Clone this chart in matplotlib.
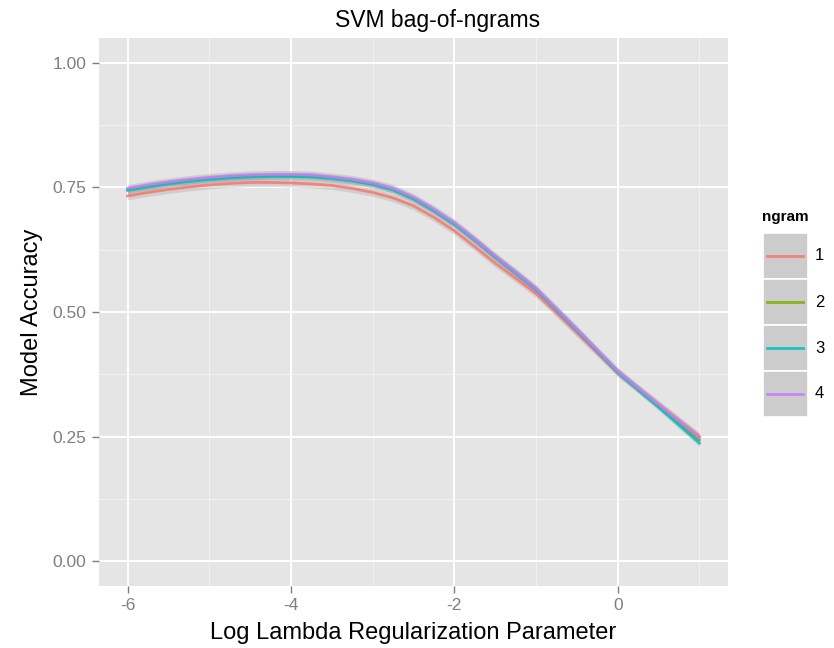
import matplotlib
matplotlib.use("Agg")
import matplotlib.pyplot as plt
from matplotlib.patches import Rectangle
from matplotlib.lines import Line2D
import numpy as np

plt.rcParams["font.family"] = ["Liberation Sans", "DejaVu Sans"]

# smoothed accuracy curves, every 0.25
log_lambda = [-6.00, -5.75, -5.50, -5.25, -5.00, -4.75, -4.50, -4.25, -4.00, -3.75,
              -3.50, -3.25, -3.00, -2.75, -2.50, -2.25, -2.00, -1.75, -1.50, -1.25,
              -1.00, -0.75, -0.50, -0.25, 0.00, 0.25, 0.50, 0.75, 1.00]
acc_1 = [0.733, 0.740, 0.746, 0.751, 0.755, 0.758, 0.760, 0.760, 0.759, 0.757,
         0.754, 0.748, 0.740, 0.729, 0.713, 0.690, 0.663, 0.631, 0.598, 0.568,
         0.537, 0.498, 0.458, 0.418, 0.378, 0.346, 0.314, 0.282, 0.250]
acc_2 = [0.746, 0.753, 0.759, 0.764, 0.768, 0.771, 0.773, 0.774, 0.774, 0.773,
         0.769, 0.764, 0.757, 0.746, 0.728, 0.704, 0.677, 0.645, 0.611, 0.579,
         0.546, 0.505, 0.464, 0.422, 0.380, 0.346, 0.312, 0.278, 0.243]
acc_3 = [0.744, 0.751, 0.757, 0.762, 0.766, 0.769, 0.771, 0.772, 0.772, 0.771,
         0.768, 0.763, 0.756, 0.745, 0.727, 0.703, 0.676, 0.644, 0.610, 0.578,
         0.545, 0.504, 0.463, 0.421, 0.379, 0.344, 0.309, 0.273, 0.237]
acc_4 = [0.748, 0.755, 0.761, 0.766, 0.770, 0.773, 0.775, 0.776, 0.776, 0.775,
         0.771, 0.766, 0.759, 0.748, 0.730, 0.706, 0.679, 0.646, 0.612, 0.580,
         0.547, 0.506, 0.465, 0.423, 0.381, 0.347, 0.314, 0.281, 0.248]
ngram_labels = ["1", "2", "3", "4"]
se_width = [0.008, 0.007, 0.007, 0.008]

COLORS = ["#F8766D", "#7CAE00", "#00BFC4", "#C77CFF"]

fig = plt.figure(figsize=(8.34, 6.48), dpi=100)
ax = fig.add_axes([0.1187, 0.0957, 0.7542, 0.8457])
ax.set_facecolor("#E5E5E5")

x = np.array(log_lambda)
series = [acc_1, acc_2, acc_3, acc_4]
for ys, se in zip(series, se_width):
    ys = np.array(ys)
    ax.fill_between(x, ys - se, ys + se, color="#999999", alpha=0.3, linewidth=0, zorder=2)
for ys, c in zip(series, COLORS):
    ax.plot(x, ys, color=c, linewidth=2.0, zorder=3, alpha=0.85)

ax.set_xlim(-6.35, 1.35)
ax.set_ylim(-0.05, 1.05)
ax.set_xticks([-6, -4, -2, 0])
ax.set_xticklabels(["-6", "-4", "-2", "0"])
ax.set_xticks([-5, -3, -1, 1], minor=True)
ax.set_yticks([0, 0.25, 0.5, 0.75, 1.0])
ax.set_yticks([0.125, 0.375, 0.625, 0.875], minor=True)
ax.set_yticklabels(["0.00", "0.25", "0.50", "0.75", "1.00"])
ax.grid(which="major", color="white", linewidth=1.4, zorder=0)
ax.grid(which="minor", color="#F2F2F2", linewidth=0.7, zorder=0)
ax.set_axisbelow(True)
for s in ax.spines.values():
    s.set_visible(False)
ax.tick_params(which="major", length=5, width=1, color="#7F7F7F",
               labelcolor="#7F7F7F", labelsize=12.5, pad=4)
ax.tick_params(which="minor", length=0)

ax.set_xlabel("Log Lambda Regularization Parameter", fontsize=17, labelpad=6)
ax.set_ylabel("Model Accuracy", fontsize=17, labelpad=7)

W, H = 834, 648
fig.text(438 / W, 1 - 20 / H, "SVM bag-of-ngrams", fontsize=16.5, ha="center", va="center")

# legend drawn by hand, ggplot style
fig.text(762 / W, 1 - 217 / H, "ngram", fontsize=11, fontweight="bold", va="center", ha="left")
box_top = 233
box_h = 46
for i, (lab, c) in enumerate(zip(ngram_labels, COLORS)):
    y0 = box_top + i * box_h
    fig.add_artist(Rectangle((763 / W, 1 - (y0 + box_h) / H), 45 / W, box_h / H,
                             transform=fig.transFigure, facecolor="#CCCCCC",
                             edgecolor="white", linewidth=1.2))
    yc = 1 - (y0 + box_h / 2) / H
    fig.add_artist(Line2D([767 / W, 803 / W], [yc, yc], transform=fig.transFigure,
                          color=c, linewidth=2.0, alpha=0.85))
    fig.text(815 / W, yc, lab, fontsize=12, va="center", ha="left")

fig.savefig("out.png", dpi=100)
